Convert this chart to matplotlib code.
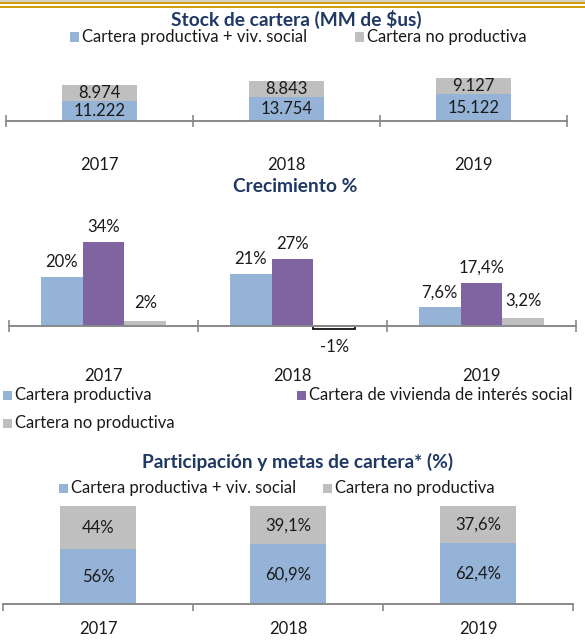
import matplotlib
matplotlib.use("Agg")
import matplotlib.pyplot as plt
from matplotlib.patches import Rectangle
import numpy as np

plt.rcParams['font.family'] = ['Lato', 'DejaVu Sans']

# ---------------- data ----------------
years = ["2017", "2018", "2019"]

# Panel 1: Stock de cartera (MM de $us)
stock_series = ["Cartera productiva + viv. social", "Cartera no productiva"]
stock_productiva = [11222, 13754, 15122]
stock_no_productiva = [8974, 8843, 9127]

# Panel 2: Crecimiento %
crec_series = ["Cartera productiva", "Cartera de vivienda de interés social", "Cartera no productiva"]
crec_productiva = [20, 21, 7.6]
crec_vivienda = [34, 27, 17.4]
crec_no_productiva = [2, -1.4, 3.2]
crec_labels_prod = ["20%", "21%", "7,6%"]
crec_labels_viv = ["34%", "27%", "17,4%"]
crec_labels_noprod = ["2%", "-1%", "3,2%"]

# Panel 3: Participación y metas de cartera* (%)
part_series = ["Cartera productiva + viv. social", "Cartera no productiva"]
part_productiva = [56, 60.9, 62.4]
part_no_productiva = [44, 39.1, 37.6]
part_labels_prod = ["56%", "60,9%", "62,4%"]
part_labels_noprod = ["44%", "39,1%", "37,6%"]

# ---------------- style ----------------
W, H = 585, 641
BLUE = "#95B3D7"
PURPLE = "#8064A2"
GRAY = "#BFBFBF"
TITLE_C = "#1F3864"
AXIS_C = "#898989"
TXT = "#1A1A1A"
FS = 12
TFS = 13.8

fig = plt.figure(figsize=(W / 100, H / 100), dpi=100)
fig.patch.set_facecolor("white")


def fx(px):
    return px / W


def fy(py):
    return 1 - py / H


def hband(y0, y1, color):
    fig.patches.append(Rectangle((0, fy(y1)), 1, (y1 - y0) / H, transform=fig.transFigure,
                                 facecolor=color, edgecolor="none", zorder=0))


# top decoration
hband(0, 2, "#D6D2C6")
hband(2, 4.2, "#CF9F10")
hband(5.8, 8, "#CF9F10")


def legend_item(x_sq, y_c, color, label):
    s = 9
    fig.patches.append(Rectangle((fx(x_sq), fy(y_c + s / 2)), s / W, s / H, transform=fig.transFigure,
                                 facecolor=color, edgecolor="none"))
    fig.text(fx(x_sq + 12), fy(y_c), label, ha="left", va="center", fontsize=FS, color=TXT)


def make_axes(left, right, axis_y, top, bottom=None):
    if bottom is None:
        bottom = axis_y
    ax = fig.add_axes([fx(left), fy(bottom), (right - left) / W, (bottom - top) / H])
    for s in ["top", "right", "left"]:
        ax.spines[s].set_visible(False)
    ax.spines["bottom"].set_color(AXIS_C)
    ax.spines["bottom"].set_linewidth(1.4)
    ax.set_yticks([])
    ax.set_xlim(-0.5, 2.5)
    ax.set_xticks([-0.5, 0.5, 1.5, 2.5], minor=True)
    ax.set_xticks(range(3))
    ax.set_xticklabels(years)
    ax.patch.set_alpha(0)
    return ax


def fmt_thousands(v):
    return f"{v:,.0f}".replace(",", ".")


x = np.arange(3)

# ---------------- Panel 1 ----------------
fig.text(fx(296), fy(19), "Stock de cartera (MM de $us)", ha="center", va="center",
         fontsize=TFS, fontweight="bold", color=TITLE_C)
legend_item(70, 37, BLUE, stock_series[0])
legend_item(355, 37, GRAY, stock_series[1])

px_per_unit1 = 1.77 / 1000
ax1 = make_axes(6, 567, 121, 60)
ax1.set_ylim(0, (121 - 60) / px_per_unit1)
b1 = ax1.bar(x, stock_productiva, width=0.4, color=BLUE, zorder=2)
b2 = ax1.bar(x, stock_no_productiva, width=0.4, bottom=stock_productiva, color=GRAY, zorder=2)
ax1.bar_label(b1, labels=[fmt_thousands(v) for v in stock_productiva], label_type="center",
              fontsize=FS, color=TXT)
ax1.bar_label(b2, labels=[fmt_thousands(v) for v in stock_no_productiva], label_type="center",
              fontsize=FS, color=TXT)
ax1.tick_params(axis="x", which="major", length=0, pad=26, labelsize=FS, labelcolor=TXT)
ax1.tick_params(axis="x", which="minor", length=9, width=1.2, color=AXIS_C, direction="inout")

# ---------------- Panel 2 ----------------
fig.text(fx(295), fy(187), "Crecimiento %", ha="center", va="center",
         fontsize=TFS, fontweight="bold", color=TITLE_C)
px_per_pct2 = 2.47
ax2 = make_axes(9, 576, 326, 215, bottom=345)
ax2.set_ylim(-(345 - 326) / px_per_pct2, (326 - 215) / px_per_pct2)
ax2.spines["bottom"].set_position(("data", 0))
w2 = 0.222
c1 = ax2.bar(x - w2, crec_productiva, width=w2, color=BLUE, zorder=2)
c2 = ax2.bar(x, crec_vivienda, width=w2, color=PURPLE, zorder=2)
c3 = ax2.bar(x + w2, crec_no_productiva, width=w2, zorder=2,
             color=["white" if v < 0 else GRAY for v in crec_no_productiva],
             edgecolor=["black" if v < 0 else GRAY for v in crec_no_productiva],
             linewidth=[1.2 if v < 0 else 0 for v in crec_no_productiva])
ax2.bar_label(c1, labels=crec_labels_prod, padding=5, fontsize=FS, color=TXT)
ax2.bar_label(c2, labels=crec_labels_viv, padding=5, fontsize=FS, color=TXT)
ax2.bar_label(c3, labels=crec_labels_noprod, padding=7, fontsize=FS, color=TXT)
ax2.tick_params(axis="x", which="major", length=0, pad=30, labelsize=FS, labelcolor=TXT)
ax2.tick_params(axis="x", which="minor", length=9, width=1.2, color=AXIS_C, direction="inout")

legend_item(3, 395, BLUE, crec_series[0])
legend_item(297, 395, PURPLE, crec_series[1])
legend_item(3, 423, GRAY, crec_series[2])

# ---------------- Panel 3 ----------------
fig.text(fx(298), fy(462), "Participación y metas de cartera* (%)", ha="center", va="center",
         fontsize=TFS, fontweight="bold", color=TITLE_C)
legend_item(59, 488, BLUE, part_series[0])
legend_item(323, 488, GRAY, part_series[1])

ax3 = make_axes(3, 573, 604, 506)
ax3.set_ylim(0, 100)
p1 = ax3.bar(x, part_productiva, width=0.4, color=BLUE, zorder=2)
p2 = ax3.bar(x, part_no_productiva, width=0.4, bottom=part_productiva, color=GRAY, zorder=2)
ax3.bar_label(p1, labels=part_labels_prod, label_type="center", fontsize=FS, color=TXT)
ax3.bar_label(p2, labels=part_labels_noprod, label_type="center", fontsize=FS, color=TXT)
ax3.tick_params(axis="x", which="major", length=0, pad=12, labelsize=FS, labelcolor=TXT)
ax3.tick_params(axis="x", which="minor", length=5, width=1.2, color=AXIS_C, direction="out")

fig.savefig("out.png", dpi=100)
